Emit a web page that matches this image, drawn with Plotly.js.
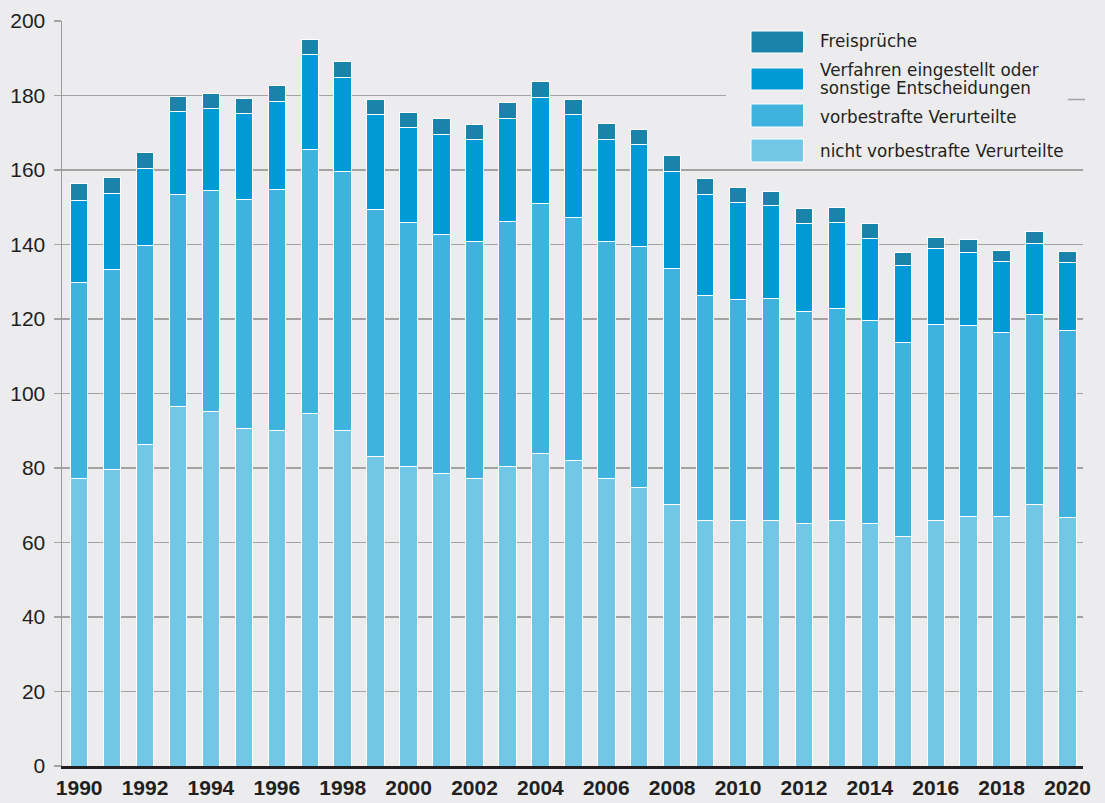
<!DOCTYPE html>
<html>
<head>
<meta charset="utf-8">
<script src="https://cdn.plot.ly/plotly-3.0.1.min.js"></script>
<style>
  html, body { margin: 0; padding: 0; background: #ececee; }
  #chart { width: 1105px; height: 803px; }
</style>
</head>
<body>
<div id="chart"></div>
<script>
// ---- Data ----
const years = [1990,1991,1992,1993,1994,1995,1996,1997,1998,1999,2000,2001,2002,2003,2004,2005,2006,2007,2008,2009,2010,2011,2012,2013,2014,2015,2016,2017,2018,2019,2020];
const nichtVorbestraft = [77.2,79.6,86.4,96.5,95.1,90.6,90.0,94.5,90.2,83.2,80.3,78.4,77.3,80.3,84.0,82.1,77.3,74.9,70.1,66.0,65.9,65.8,65.0,66.0,65.2,61.6,66.0,67.0,67.0,70.1,66.8];
const vorbestraft = [52.7,53.6,53.2,56.8,59.3,61.6,64.9,71.1,69.3,66.3,65.6,64.4,63.5,65.9,67.0,65.1,63.5,64.5,63.4,60.4,59.4,59.7,56.9,56.7,54.4,52.0,52.6,51.2,49.3,51.2,50.2];
const eingestellt = [21.9,20.4,20.8,22.5,22.2,22.9,23.6,25.3,25.3,25.3,25.6,26.7,27.4,27.5,28.5,27.7,27.5,27.5,26.2,27.1,25.9,24.9,23.8,23.3,22.1,20.8,20.2,19.7,19.1,19.0,18.3];
const freisprueche = [4.6,4.3,4.3,4.0,3.9,4.0,4.2,4.1,4.2,4.2,4.0,4.2,4.1,4.4,4.2,4.1,4.2,3.9,4.3,4.2,4.1,3.8,3.9,3.9,4.0,3.5,3.2,3.4,3.0,3.1,2.7];
const tickYears = [1990,1992,1994,1996,1998,2000,2002,2004,2006,2008,2010,2012,2014,2016,2018,2020];
const yTicks = [0,20,40,60,80,100,120,140,160,180,200];

const seriesNames = ["nicht vorbestrafte Verurteilte","vorbestrafte Verurteilte","Verfahren eingestellt oder","sonstige Entscheidungen","Freisprüche"];

// ---- Styles ----
const COLORS = {
  nicht: "#72c6e6",
  vorb: "#3fb2de",
  einge: "#009ad6",
  frei: "#1a83ac"
};
const BG = "#ececee";
const TEXT = "#231f20";
const FONT = "Liberation Sans, Arial, Helvetica, sans-serif";
const LEGEND_FONT = "DejaVu Sans, Liberation Sans, sans-serif";

function barTrace(name, y, color) {
  return {
    type: "bar", name: name, x: years, y: y, width: 0.53,
    marker: { color: color, line: { color: "#ffffff", width: 1 } },
    hoverinfo: "x+y+name", showlegend: false
  };
}

const data = [
  barTrace(seriesNames[0], nichtVorbestraft, COLORS.nicht),
  barTrace(seriesNames[1], vorbestraft, COLORS.vorb),
  barTrace(seriesNames[2] + " " + seriesNames[3], eingestellt, COLORS.einge),
  barTrace(seriesNames[4], freisprueche, COLORS.frei)
];

// plot area in pixels (for legend placement)
const PL = 62, PW = 1021, PB = 766, PH = 745;
const px = v => (v - PL) / PW;
const py = v => (PB - v) / PH;

const legendRows = [
  { color: COLORS.frei,  top: 31,  bottom: 53,  lines: [[seriesNames[4], 41.5]] },
  { color: COLORS.einge, top: 68,  bottom: 90,  lines: [[seriesNames[2], 70], [seriesNames[3], 88]] },
  { color: COLORS.vorb,  top: 104, bottom: 127, lines: [[seriesNames[1], 116.5]] },
  { color: COLORS.nicht, top: 139, bottom: 162, lines: [[seriesNames[0], 151.5]] }
];

const shapes = [
  // legend background covering the gridlines
  { type: "rect", xref: "paper", yref: "paper", x0: px(726), x1: px(1087), y0: py(166), y1: py(25),
    fillcolor: BG, line: { width: 0 }, layer: "above" },
  // small gridline stub at right of the legend
  { type: "line", xref: "paper", yref: "paper", x0: px(1068), x1: px(1085), y0: py(99.5), y1: py(99.5),
    line: { color: "#a3a3a3", width: 1.5 }, layer: "above" }
];
const annotations = [];
legendRows.forEach(r => {
  shapes.push({ type: "rect", xref: "paper", yref: "paper",
    x0: px(751), x1: px(803.5), y0: py(r.bottom), y1: py(r.top),
    fillcolor: r.color, line: { color: "#ffffff", width: 1 }, layer: "above" });
  r.lines.forEach(l => {
    annotations.push({ xref: "paper", yref: "paper", x: px(818), y: py(l[1]),
      xanchor: "left", yanchor: "middle", showarrow: false, text: l[0],
      font: { family: LEGEND_FONT, size: 16.8, color: TEXT } });
  });
});

const layout = {
  width: 1105, height: 803,
  margin: { l: 62, r: 22, t: 21, b: 37, pad: 0 },
  paper_bgcolor: BG, plot_bgcolor: BG,
  barmode: "stack", bargap: 0.47,
  showlegend: false,
  font: { family: FONT, color: TEXT },
  xaxis: {
    type: "linear", range: [1989.48, 2020.47],
    tickvals: tickYears, ticktext: tickYears.map(String),
    showgrid: false, zeroline: false,
    showline: true, linecolor: "#231f20", linewidth: 2.5,
    ticks: "", ticklabelstandoff: 1,
    tickfont: { family: FONT, size: 21, color: TEXT, weight: "bold" }
  },
  yaxis: {
    range: [0, 200], tickvals: yTicks, ticktext: yTicks.map(String),
    showgrid: true, gridcolor: "#a3a3a3", gridwidth: 1.5,
    zeroline: false,
    showline: true, linecolor: "#9a9a9a", linewidth: 1.5,
    ticks: "outside", ticklen: 7, tickcolor: "#a3a3a3", tickwidth: 1.5,
    ticklabelstandoff: 4,
    tickfont: { family: FONT, size: 21, color: TEXT }
  },
  shapes: shapes,
  annotations: annotations
};

Plotly.newPlot("chart", data, layout, { displayModeBar: false, staticPlot: true });
</script>
</body>
</html>
